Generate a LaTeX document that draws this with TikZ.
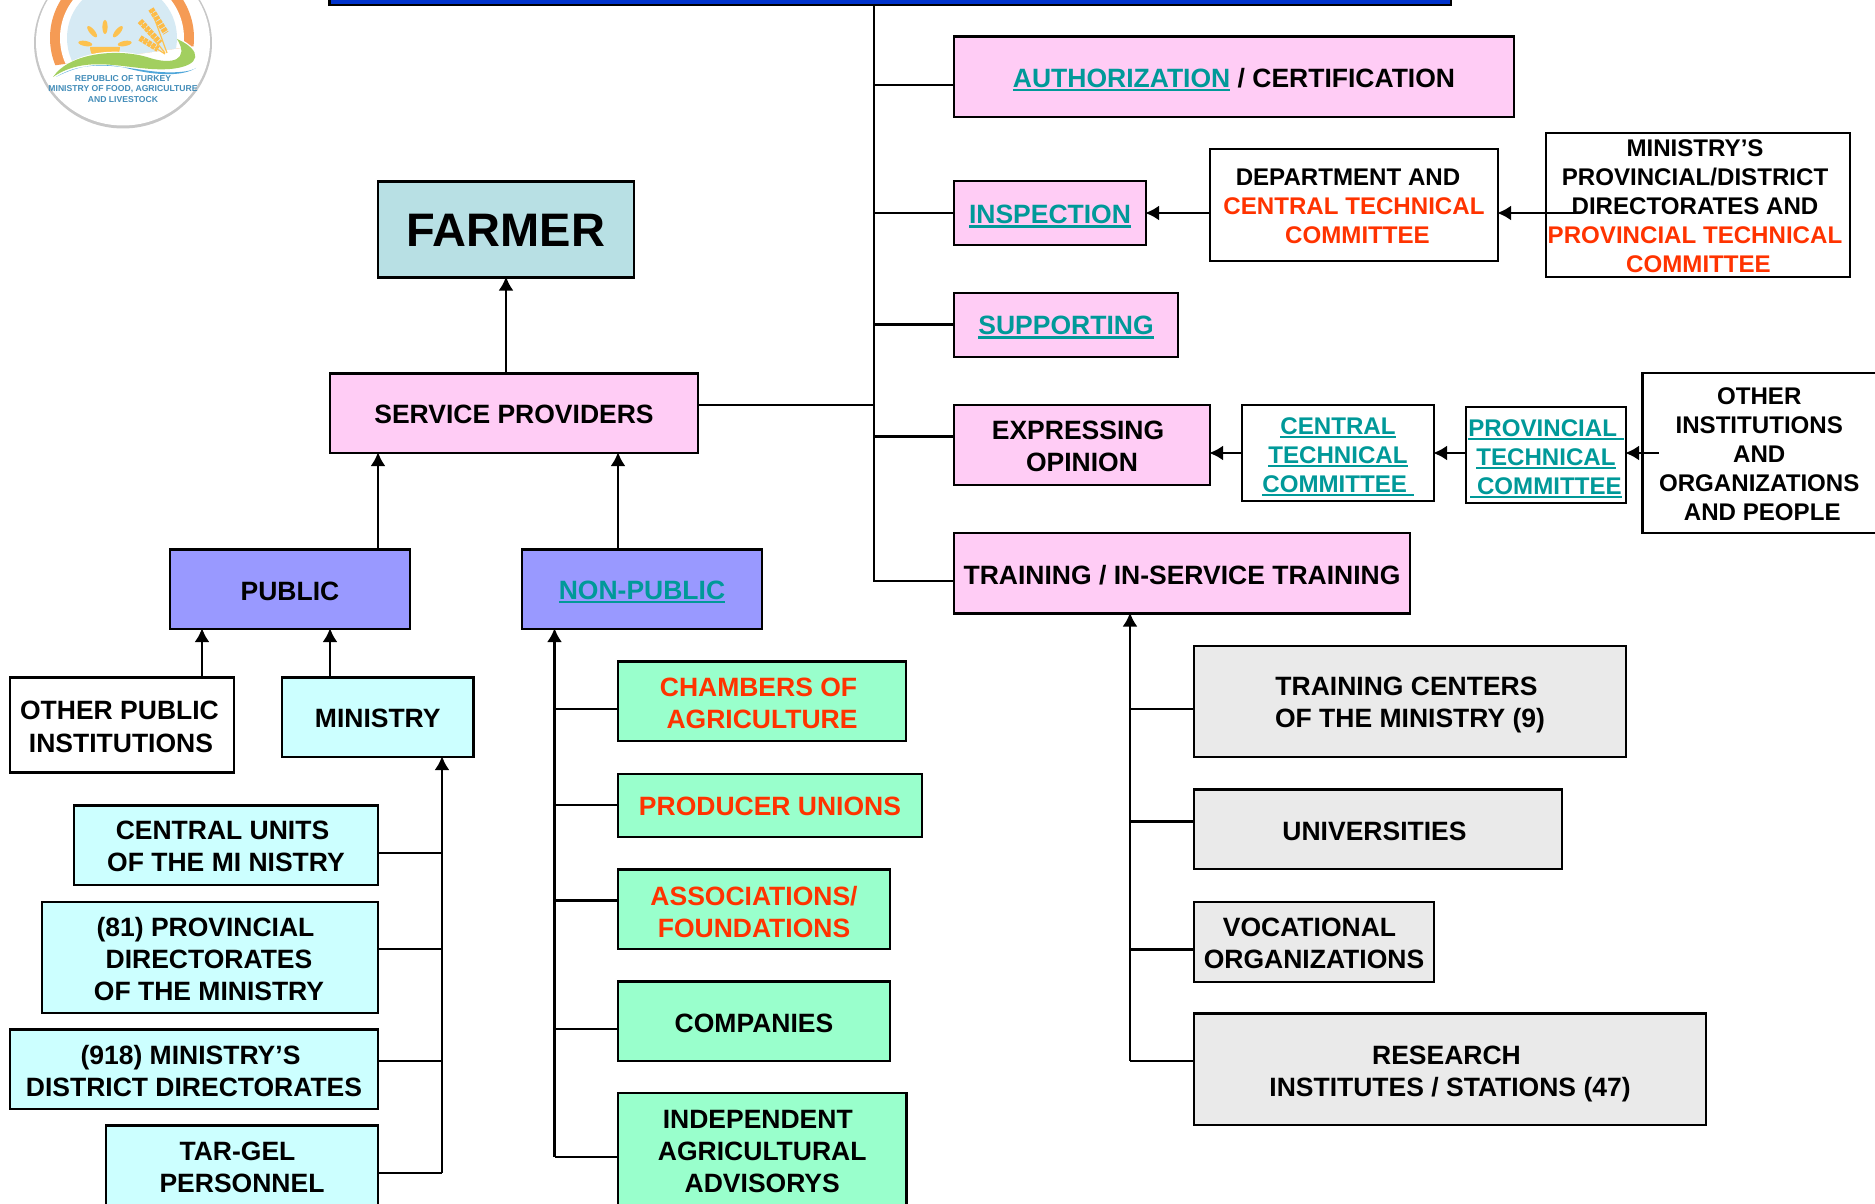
\documentclass[tikz,border=0pt]{standalone}
\usepackage{fontspec}
\setmainfont{Liberation Sans}
\usetikzlibrary{arrows.meta,calc}
\definecolor{pinkb}{HTML}{FFCCF5}
\definecolor{cyanb}{HTML}{CCFFFF}
\definecolor{greenb}{HTML}{99FFCC}
\definecolor{violetb}{HTML}{9999FF}
\definecolor{greyb}{HTML}{EAEAEA}
\definecolor{farmerb}{HTML}{B8E0E4}
\definecolor{tealt}{HTML}{009999}
\definecolor{redt}{HTML}{FF3300}
\definecolor{barblue}{HTML}{0033CC}
\definecolor{orng}{HTML}{F59B55}
\definecolor{skyb}{HTML}{D6EAF4}
\definecolor{sunc}{HTML}{FDC24F}
\definecolor{grn}{HTML}{A2CF5F}
\definecolor{wav}{HTML}{4FA6DA}
\newcommand\ul[1]{\setbox0\hbox{#1}\rlap{\rule[-3.6pt]{\wd0}{2.2pt}}\box0}
\newcommand\R[1]{\textcolor{redt}{#1}}
\newcommand\T[1]{\textcolor{tealt}{\ul{#1}}}
\newcommand\fs[2]{\fontsize{#1}{#2}\selectfont\bfseries}
\newcommand\Ls[1]{\hspace*{#1pt}}
\newcommand\tx[3][]{\node[txts,#1] (#2t) at (#2.center) {#3};}
\newcommand\bxx[6]{%
  \pgfmathsetmacro\bw{#4-#2}\pgfmathsetmacro\bh{#5-#3}%
  \pgfmathsetmacro\bcx{(#2+#4)/2}\pgfmathsetmacro\bcy{(#3+#5)/2}%
  \node[boxs,#6,minimum width=\bw pt,minimum height=\bh pt] (#1) at (\bcx,\bcy) {};}
\tikzset{
  boxs/.style={draw=black,line width=2.1pt,inner sep=0pt,outer sep=0pt},
  txts/.style={inner sep=0pt,outer sep=0pt,align=center,font=\fs{26.5}{32}},
  tight/.style={font=\fs{24.1}{29}},
  pk/.style={fill=pinkb}, cy/.style={fill=cyanb}, gn/.style={fill=greenb},
  vi/.style={fill=violetb}, gy/.style={fill=greyb}, wh/.style={fill=white},
  conn/.style={line width=2.2pt,draw=black},
  arr/.style={line width=2.7pt,draw=black,-{Latex[length=14pt,width=15pt]},shorten >=-1pt},
}
\begin{document}
\begin{tikzpicture}[x=1pt,y=-1pt]
\useasboundingbox (0,0) rectangle (1875,1204);
\clip (0,0) rectangle (1875,1204);
% logo
\fill[black!22] (123,43) ellipse (89 and 85.5);
\fill[white] (123,42) ellipse (87 and 83.5);
\begin{scope}
\clip (40,-40) -- (210,-40) -- (210,44) -- (50,66) -- cycle;
\fill[orng] (122,38) circle (72);
\fill[white] (122,38) circle (62);
\fill[skyb] (122,38) circle (55);
\end{scope}
\fill[sunc] (90,47) arc (180:0:15) -- cycle;
\foreach \a in {-80,-40,0,40,80}{
  \fill[sunc,rotate around={\a:(105,47)}] (105,27) ellipse (2.6 and 7);
}
\draw[sunc!90!orange,line width=6pt,dash pattern=on 3.6pt off 1pt] (151,9) -- (166,33);
\draw[sunc!90!orange,line width=6pt,dash pattern=on 3.6pt off 1pt] (140,21) -- (160,43);
\draw[sunc!90!orange,line width=6pt,dash pattern=on 3.6pt off 1pt] (140,38) -- (158,49);
\draw[sunc,line width=1.2pt] (151,9) -- (167,53) (140,21) -- (165,53) (140,38) -- (165,54);
\fill[white] (50,80) .. controls (70,50) and (120,46) .. (150,58) .. controls (170,64) and (190,58) .. (178,38) .. controls (205,50) and (205,70) .. (170,72) .. controls (130,76) and (90,54) .. (50,80) -- cycle;
\fill[grn] (53,77) .. controls (70,52) and (120,48) .. (150,58) .. controls (172,65) and (190,60) .. (177,39) .. controls (202,50) and (203,66) .. (170,69) .. controls (130,72) and (90,52) .. (53,77) -- cycle;
\fill[wav] (56,77) .. controls (90,56) and (130,70) .. (160,72) .. controls (175,73) and (190,72) .. (196,68) .. controls (180,78) and (150,74) .. (130,69) .. controls (105,62) and (80,64) .. (56,77) -- cycle;
\node[inner sep=0pt,align=center,text=wav!85!black,font=\fontsize{8.6}{10.2}\selectfont\bfseries] (logotext) at (123,89) {REPUBLIC OF TURKEY\\MINISTRY OF FOOD, AGRICULTURE\\AND LIVESTOCK};
% boxes
\bxx{top}{329.5}{-40}{1451}{5}{fill=barblue}
\bxx{auth}{954}{36.5}{1514}{117}{pk}
\tx[yshift=-3pt]{auth}{\T{AUTHORIZATION} / CERTIFICATION}
\bxx{insp}{954}{181}{1146}{245}{pk}
\tx[yshift=-3.5pt]{insp}{\T{INSPECTION}}
\bxx{dept}{1210}{149}{1498}{261}{wh}
\tx[tight,yshift=-1pt]{dept}{DEPARTMENT AND\Ls{12}\\\R{CENTRAL TECHNICAL}\\\Ls{7}\R{COMMITTEE}}
\bxx{supp}{954}{293}{1178}{357}{pk}
\tx[yshift=-2.5pt]{supp}{\T{SUPPORTING}}
\bxx{expr}{954}{405}{1210}{485}{pk}
\tx[yshift=-1.5pt]{expr}{EXPRESSING\Ls{8}\\OPINION}
\bxx{ctc}{1242}{405}{1434}{501}{wh}
\tx[tight,yshift=-3.5pt]{ctc}{\T{CENTRAL}\\\T{TECHNICAL}\\\T{COMMITTEE }}
\bxx{ptc}{1466}{407}{1626}{503}{wh}
\tx[tight,yshift=-3.5pt]{ptc}{\T{PROVINCIAL }\\\T{TECHNICAL}\\\T{ COMMITTEE}}
\bxx{oth}{1642.5}{373}{1900}{533}{wh}
\tx[tight,xshift=-12pt,yshift=-1pt]{oth}{OTHER\\INSTITUTIONS\\AND\\ORGANIZATIONS\\\Ls{6}AND PEOPLE}
\bxx{prov}{1546}{133}{1850}{277}{wh}
\tx[tight,xshift=-3pt,yshift=-1pt]{prov}{MINISTRY’S\\PROVINCIAL/DISTRICT\\DIRECTORATES AND\\\R{PROVINCIAL TECHNICAL}\\\Ls{7}\R{COMMITTEE}}
\bxx{train}{954}{533}{1410}{613.5}{pk}
\tx[yshift=-1.5pt]{train}{TRAINING / IN-SERVICE TRAINING}
\bxx{farmer}{378}{181.5}{634}{277.5}{fill=farmerb}
\tx[font=\fs{47}{56},yshift=-1pt]{farmer}{FARMER}
\bxx{serv}{330}{373.5}{698}{453}{pk}
\tx[yshift=-1.5pt]{serv}{SERVICE PROVIDERS}
\bxx{pub}{170}{549.5}{410}{629}{vi}
\tx[yshift=-2.5pt]{pub}{PUBLIC}
\bxx{npub}{522}{549.5}{762}{629}{vi}
\tx[yshift=-3pt]{npub}{\T{NON-PUBLIC}}
\bxx{opub}{10}{677.5}{234}{772.5}{wh}
\tx[font=\fs{26.5}{33},yshift=-1.5pt,xshift=-1pt]{opub}{OTHER PUBLIC\Ls{3}\\INSTITUTIONS}
\bxx{min}{282}{677.5}{473.5}{757}{cy}
\tx[yshift=-1.5pt]{min}{MINISTRY}
\bxx{cent}{74}{805.5}{378}{885}{cy}
\tx[yshift=-1pt]{cent}{CENTRAL UNITS\Ls{7}\\OF THE MI NISTRY}
\bxx{prv}{42}{902}{378}{1013}{cy}
\tx[yshift=-2pt,xshift=-1pt]{prv}{(81) PROVINCIAL\Ls{7}\\DIRECTORATES\Ls{7}\\OF THE MINISTRY}
\bxx{dist}{10}{1029.5}{378}{1109}{cy}
\tx[yshift=-1.5pt]{dist}{(918) MINISTRY’S\Ls{7}\\DISTRICT DIRECTORATES}
\bxx{tar}{106}{1125.5}{378}{1215}{cy}
\tx[yshift=3pt]{tar}{TAR-GEL\Ls{9}\\PERSONNEL}
\bxx{cham}{618}{661.5}{906}{741}{gn}
\tx[yshift=-2pt]{cham}{\R{CHAMBERS OF}\Ls{7}\\\R{AGRICULTURE}}
\bxx{unio}{618}{774}{922}{837}{gn}
\tx[yshift=-1pt]{unio}{\R{PRODUCER UNIONS}}
\bxx{asso}{618}{869.5}{890}{949}{gn}
\tx[yshift=-2.5pt]{asso}{\R{ASSOCIATIONS/}\\\R{FOUNDATIONS}}
\bxx{comp}{618}{981.5}{890}{1061}{gn}
\tx[yshift=-2.5pt]{comp}{COMPANIES}
\bxx{inde}{618}{1093}{906.5}{1225}{gn}
\tx[yshift=7pt]{inde}{INDEPENDENT\Ls{9}\\AGRICULTURAL\Ls{9}\\ADVISORYS}
\bxx{tc}{1194}{646}{1626}{757}{gy}
\tx[yshift=-3pt]{tc}{TRAINING CENTERS\Ls{7}\\OF THE MINISTRY (9)}
\bxx{univ}{1194}{789.5}{1562}{869}{gy}
\tx[xshift=-3.5pt,yshift=-2.5pt]{univ}{UNIVERSITIES}
\bxx{voc}{1194}{902}{1434}{982}{gy}
\tx[yshift=-1.5pt]{voc}{VOCATIONAL\Ls{9}\\ORGANIZATIONS}
\bxx{res}{1194}{1013.5}{1706}{1125}{gy}
\tx[yshift=-5pt]{res}{RESEARCH\Ls{7}\\INSTITUTES / STATIONS (47)}
% junction coordinates
\coordinate (t0) at (874,5);
\coordinate (t1) at (874,85);
\coordinate (t2) at (874,213);
\coordinate (t3) at (874,324.5);
\coordinate (t4) at (874,436.5);
\coordinate (t5) at (874,581);
\coordinate (ts) at (874,405);
\coordinate (m1) at (442,853);
\coordinate (m2) at (442,949);
\coordinate (m3) at (442,1061);
\coordinate (m4) at (442,1173);
\coordinate (n1) at (554.5,709);
\coordinate (n2) at (554.5,805);
\coordinate (n3) at (554.5,900.5);
\coordinate (n4) at (554.5,1029);
\coordinate (n5) at (554.5,1157);
\coordinate (r1) at (1130,709);
\coordinate (r2) at (1130,821.5);
\coordinate (r3) at (1130,949.5);
\coordinate (r4) at (1130,1060.6);
% trunk and branches
\draw[conn] (t0) -- (t5) -- (train.west |- t5);
\draw[conn] (t1) -- (auth.west |- t1);
\draw[conn] (t2) -- (insp.west |- t2);
\draw[conn] (t3) -- (supp.west |- t3);
\draw[conn] (t4) -- (expr.west |- t4);
\draw[conn] (serv.east |- ts) -- (ts);
% arrows up
\coordinate (u1) at (506,300);
\coordinate (u2) at (378,500);
\coordinate (u3) at (618,500);
\coordinate (u4) at (202,650);
\coordinate (u5) at (330,650);
\draw[arr] (serv.north -| u1) -- (farmer.south -| u1);
\draw[arr] (pub.north -| u2) -- (serv.south -| u2);
\draw[arr] (npub.north -| u3) -- (serv.south -| u3);
\draw[arr] (opub.north -| u4) -- (pub.south -| u4);
\draw[arr] (min.north -| u5) -- (pub.south -| u5);
% ministry
\draw[arr] (m4) -- (m4 |- min.south);
\draw[conn] (cent.east |- m1) -- (m1);
\draw[conn] (prv.east |- m2) -- (m2);
\draw[conn] (dist.east |- m3) -- (m3);
\draw[conn] (tar.east |- m4) -- (m4);
% non-public
\draw[arr] (n5) -- (n5 |- npub.south);
\draw[conn] (cham.west |- n1) -- (n1);
\draw[conn] (unio.west |- n2) -- (n2);
\draw[conn] (asso.west |- n3) -- (n3);
\draw[conn] (comp.west |- n4) -- (n4);
\draw[conn] (inde.west |- n5) -- (n5);
% training
\draw[arr] (r4) -- (r4 |- train.south);
\draw[conn] (tc.west |- r1) -- (r1);
\draw[conn] (univ.west |- r2) -- (r2);
\draw[conn] (voc.west |- r3) -- (r3);
\draw[conn] (res.west |- r4) -- (r4);
% side arrows
\coordinate (a1) at (1209.5,213);
\coordinate (a2) at (1575,213);
\coordinate (a3) at (1242,453);
\coordinate (a4) at (1466,453);
\coordinate (a5) at (1658.5,453);
\draw[arr] (dept.west |- a1) -- (insp.east |- a1);
\draw[arr] (a2) -- (dept.east |- a2);
\draw[arr] (ctc.west |- a3) -- (expr.east |- a3);
\draw[arr] (ptc.west |- a4) -- (ctc.east |- a4);
\draw[arr] (a5) -- (ptc.east |- a5);
\end{tikzpicture}
\end{document}
